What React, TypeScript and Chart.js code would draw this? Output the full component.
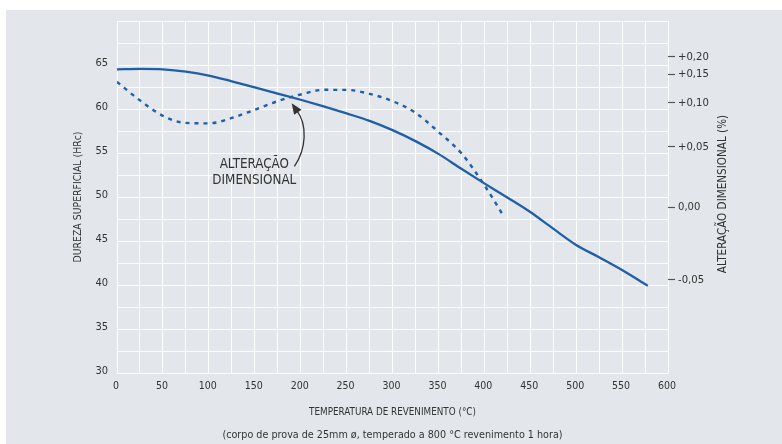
import React, { useEffect, useRef } from 'react';
import { Chart, LinearScale, registerables } from 'chart.js';

Chart.register(...registerables);

// ---- data ----
const hardnessTemps = [0, 25, 50, 75, 100, 125, 150, 175, 200, 225, 250, 275, 300, 325, 350, 375, 400, 425, 450, 475, 500, 525, 550, 578];
const hardnessValues = [64.5, 64.55, 64.5, 64.25, 63.8, 63.15, 62.45, 61.75, 61.05, 60.3, 59.5, 58.65, 57.6, 56.35, 54.9, 53.2, 51.55, 49.95, 48.3, 46.4, 44.55, 43.15, 41.7, 39.9];

const dimTemps = [0, 25, 50, 75, 100, 125, 150, 175, 200, 225, 250, 275, 300, 325, 350, 375, 400, 420];
const dimValues = [0.137, 0.104, 0.085, 0.077, 0.0765, 0.0826, 0.092, 0.1027, 0.1145, 0.1228, 0.1227, 0.1156, 0.1027, 0.0885, 0.0668, 0.0446, 0.0183, -0.005];

const rightTickValues = [-0.05, 0, 0.05, 0.1, 0.15, 0.2];
const rightTickLabels = ['-0,05', '0,00', '+0,05', '+0,10', '+0,15', '+0,20'];
// fraction of the plot height (from the bottom) where each right tick sits (non-linear axis)
const rightTickDecimals = [0.265, 0.4705, 0.643, 0.768, 0.848, 0.8986];

const xTitle = 'TEMPERATURA DE REVENIMENTO (°C)';
const caption = '(corpo de prova de 25mm ø, temperado a 800 °C revenimento 1 hora)';
const leftTitle = 'DUREZA SUPERFICIAL (HRc)';
const rightTitle = 'ALTERAÇÃO DIMENSIONAL (%)';
const annotationLines = ['ALTERAÇÃO', 'DIMENSIONAL'];

const FONT = '"Liberation Sans Narrow", "DejaVu Sans Condensed", "Open Sans", sans-serif';
const BLUE = '#1f5ea9';
const TEXT = '#333333';

class PiecewiseScale extends LinearScale {
  static id = 'piecewise';
  static defaults = LinearScale.defaults;
  _decimalFor(value: number) {
    const v = rightTickValues;
    const d = rightTickDecimals;
    let i = 0;
    while (i < v.length - 2 && value > v[i + 1]) i++;
    const t = (value - v[i]) / (v[i + 1] - v[i]);
    return d[i] + t * (d[i + 1] - d[i]);
  }
  getPixelForValue(value: number) {
    return this.getPixelForDecimal(this._decimalFor(value));
  }
  getValueForPixel(pixel: number) {
    const dec = this.getDecimalForPixel(pixel);
    const v = rightTickValues;
    const d = rightTickDecimals;
    let i = 0;
    while (i < d.length - 2 && dec > d[i + 1]) i++;
    const t = (dec - d[i]) / (d[i + 1] - d[i]);
    return v[i] + t * (v[i + 1] - v[i]);
  }
}
Chart.register(PiecewiseScale as any);

const decorPlugin = {
  id: 'decor',
  afterDraw(chart: any) {
    const { ctx, chartArea, scales } = chart;
    const xs = scales.x;
    const ys = scales.y;
    const px = (t: number) => xs.getPixelForValue(t);
    const py = (h: number) => ys.getPixelForValue(h);
    ctx.save();
    ctx.fillStyle = TEXT;
    ctx.textAlign = 'center';
    ctx.textBaseline = 'middle';
    const midY = (chartArea.top + chartArea.bottom) / 2;
    const midX = (chartArea.left + chartArea.right) / 2;

    // left title
    ctx.save();
    ctx.font = `10.4px ${FONT}`;
    ctx.translate(chartArea.left - 39, midY);
    ctx.rotate(-Math.PI / 2);
    ctx.fillText(leftTitle, 0, 0);
    ctx.restore();

    // right title
    ctx.save();
    ctx.font = `11.6px ${FONT}`;
    ctx.translate(chartArea.right + 55, midY - 3);
    ctx.rotate(-Math.PI / 2);
    ctx.fillText(rightTitle, 0, 0);
    ctx.restore();

    // x title & caption
    ctx.font = `9.8px ${FONT}`;
    ctx.fillText(xTitle, midX, chartArea.bottom + 39);
    ctx.font = `10.7px ${FONT}`;
    ctx.fillText(caption, midX, chartArea.bottom + 62);

    // annotation text
    ctx.font = `13.3px ${FONT}`;
    ctx.fillText(annotationLines[0], px(149.5), py(53.7));
    ctx.fillText(annotationLines[1], px(149.5), py(51.85));

    // arrow
    ctx.strokeStyle = '#333';
    ctx.lineWidth = 1.3;
    ctx.beginPath();
    ctx.moveTo(px(193.2), py(53.48));
    ctx.bezierCurveTo(px(205.9), py(55.4), px(208.1), py(58.22), px(195.0), py(59.92));
    ctx.stroke();
    const tx = px(190.2), ty = py(60.66);
    const bx = px(195.0), by = py(59.92);
    const ang = Math.atan2(ty - by, tx - bx);
    const len = 11, half = 4.5;
    const cx = tx - Math.cos(ang) * len, cy = ty - Math.sin(ang) * len;
    ctx.fillStyle = '#333';
    ctx.beginPath();
    ctx.moveTo(tx, ty);
    ctx.lineTo(cx + Math.cos(ang + Math.PI / 2) * half, cy + Math.sin(ang + Math.PI / 2) * half);
    ctx.lineTo(cx - Math.cos(ang + Math.PI / 2) * half, cy - Math.sin(ang + Math.PI / 2) * half);
    ctx.closePath();
    ctx.fill();
    ctx.restore();
  },
};

export default function App() {
  const canvasRef = useRef<HTMLCanvasElement | null>(null);

  useEffect(() => {
    const canvas = canvasRef.current;
    if (!canvas) return;
    const chart = new Chart(canvas, {
      type: 'line',
      data: {
        datasets: [
          {
            label: 'Dureza',
            data: hardnessTemps.map((t, i) => ({ x: t, y: hardnessValues[i] })),
            borderColor: BLUE,
            borderWidth: 2.3,
            pointRadius: 0,
            cubicInterpolationMode: 'monotone',
            yAxisID: 'y',
          },
          {
            label: 'Alteração dimensional',
            data: dimTemps.map((t, i) => ({ x: t, y: dimValues[i] })),
            borderColor: BLUE,
            borderWidth: 2.4,
            borderDash: [4, 5],
            pointRadius: 0,
            cubicInterpolationMode: 'monotone',
            yAxisID: 'y1',
          },
        ],
      },
      options: {
        responsive: false,
        animation: false,
        events: [],
        layout: { padding: { left: 0, right: 0, top: 21, bottom: 0 } },
        plugins: { legend: { display: false }, tooltip: { enabled: false }, title: { display: false } },
        scales: {
          x: {
            type: 'linear',
            min: 0,
            max: 600,
            border: { display: false },
            grid: { color: '#ffffff', lineWidth: 1, drawTicks: false },
            ticks: {
              stepSize: 25,
              autoSkip: false,
              maxRotation: 0,
              padding: 7,
              labelOffset: -1,
              color: TEXT,
              font: { family: FONT, size: 10.5 },
              callback: (v: any) => (Number(v) % 50 === 0 ? String(v) : ''),
            },
            afterFit: (s: any) => { s.height = 71; },
          },
          y: {
            type: 'linear',
            position: 'left',
            min: 30,
            max: 70,
            border: { display: false },
            grid: { color: '#ffffff', lineWidth: 1, drawTicks: false },
            ticks: {
              stepSize: 2.5,
              autoSkip: false,
              padding: 9,
              labelOffset: -2,
              color: TEXT,
              font: { family: FONT, size: 11 },
              callback: (v: any) => (Number(v) % 5 === 0 && Number(v) < 70 ? String(v) : ''),
            },
            afterFit: (s: any) => { s.width = 117; },
          },
          y1: {
            type: 'piecewise' as any,
            position: 'right',
            min: -0.1,
            max: 0.25,
            border: { display: false },
            grid: { drawOnChartArea: false, drawTicks: true, tickLength: 7, tickColor: '#555555', tickWidth: 1.2 },
            afterBuildTicks: (s: any) => { s.ticks = rightTickValues.map((v) => ({ value: v })); },
            ticks: {
              autoSkip: false,
              padding: 3,
              color: TEXT,
              font: { family: FONT, size: 11.2 },
              callback: (_v: any, i: number) => rightTickLabels[i],
            },
            afterFit: (s: any) => { s.width = 114; },
          },
        },
      } as any,
      plugins: [decorPlugin],
    });
    return () => chart.destroy();
  }, []);

  return (
    <div style={{ position: 'absolute', left: 0, top: 0, width: 782, height: 444, background: '#ffffff', overflow: 'hidden' }}>
      <div style={{ position: 'absolute', left: 6, top: 10, right: 0, bottom: 0, background: '#e3e6ea' }} />
      <canvas ref={canvasRef} width={782} height={444} style={{ position: 'absolute', left: 0, top: 0, width: 782, height: 444 }} />
    </div>
  );
}
